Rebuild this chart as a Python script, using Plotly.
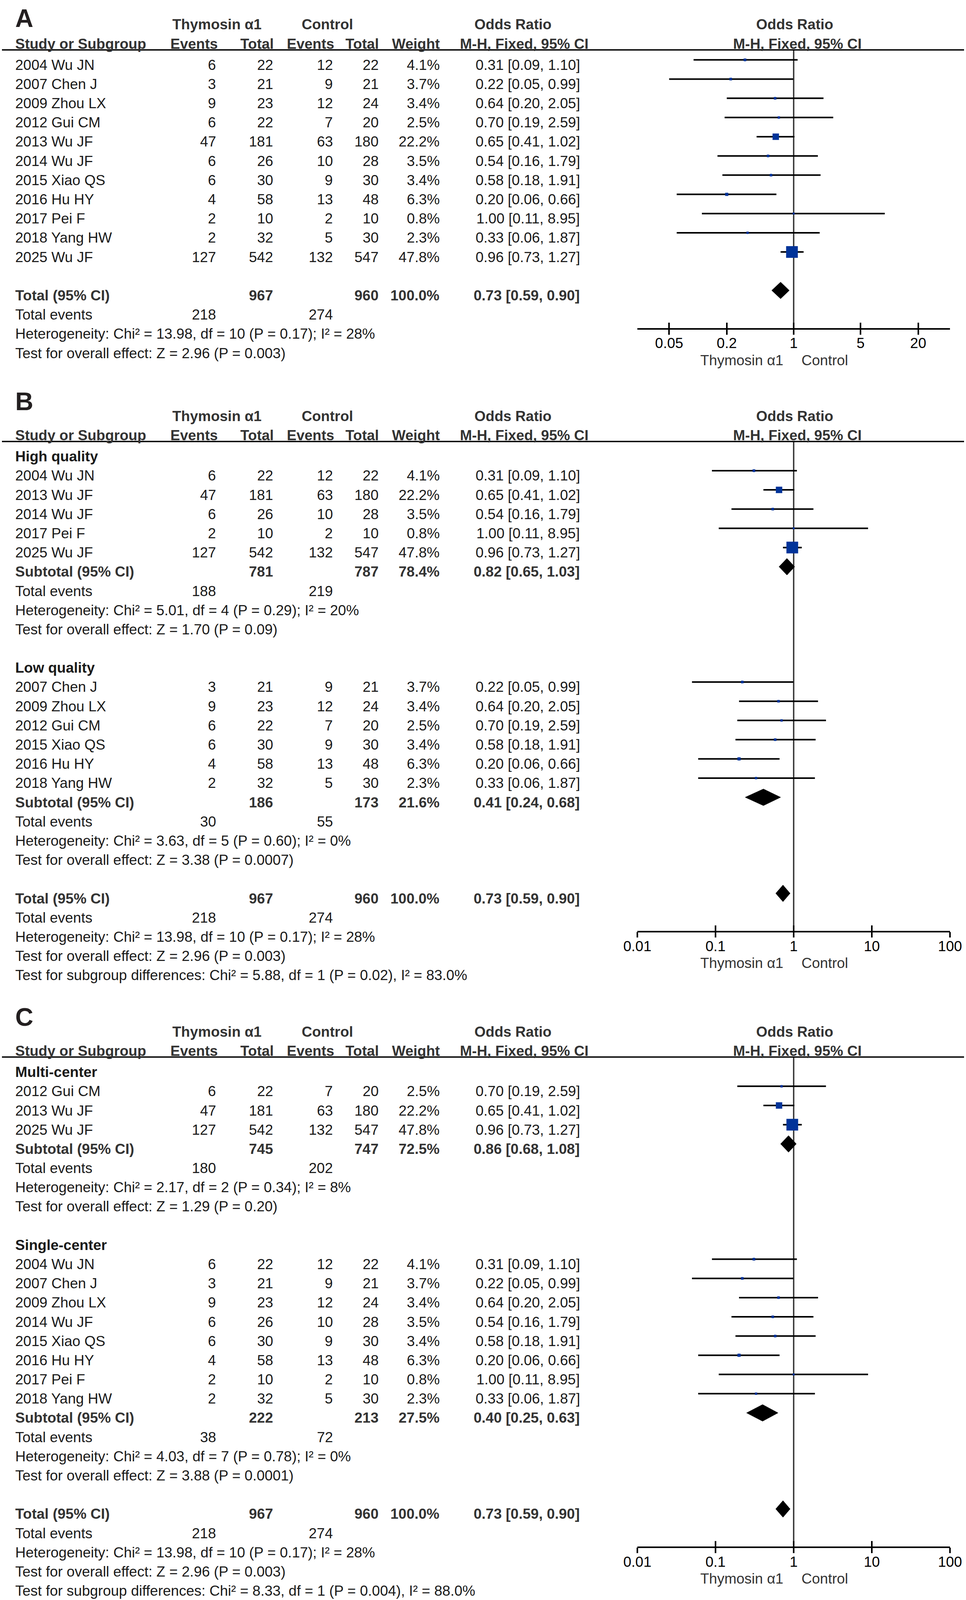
import plotly.graph_objects as go

W, H = 2472, 4143
FONT = "Liberation Sans, Arial, Helvetica, sans-serif"

# ---------------- data ----------------
study_names = ["2004 Wu JN", "2007 Chen J", "2009 Zhou LX", "2012 Gui CM", "2013 Wu JF",
               "2014 Wu JF", "2015 Xiao QS", "2016 Hu HY", "2017 Pei F", "2018 Yang HW", "2025 Wu JF"]
thy_events = [6, 3, 9, 6, 47, 6, 6, 4, 2, 2, 127]
thy_total = [22, 21, 23, 22, 181, 26, 30, 58, 10, 32, 542]
ctl_events = [12, 9, 12, 7, 63, 10, 9, 13, 2, 5, 132]
ctl_total = [22, 21, 24, 20, 180, 28, 30, 48, 10, 30, 547]
weight = [4.1, 3.7, 3.4, 2.5, 22.2, 3.5, 3.4, 6.3, 0.8, 2.3, 47.8]
or_est = [0.31, 0.22, 0.64, 0.70, 0.65, 0.54, 0.58, 0.20, 1.00, 0.33, 0.96]
ci_low = [0.09, 0.05, 0.20, 0.19, 0.41, 0.16, 0.18, 0.06, 0.11, 0.06, 0.73]
ci_high = [1.10, 0.99, 2.05, 2.59, 1.02, 1.79, 1.91, 0.66, 8.95, 1.87, 1.27]

# overall pooled result
total_n_thy = 967
total_n_ctl = 960
total_weight = 100.0
total_or = 0.73
total_low = 0.59
total_high = 0.90
total_ev_thy = 218
total_ev_ctl = 274
total_het = "Heterogeneity: Chi² = 13.98, df = 10 (P = 0.17); I² = 28%"
total_z = "Test for overall effect: Z = 2.96 (P = 0.003)"

# panel B: study quality
b_groups = ["High quality", "Low quality"]
b_members = [["2004 Wu JN", "2013 Wu JF", "2014 Wu JF", "2017 Pei F", "2025 Wu JF"],
             ["2007 Chen J", "2009 Zhou LX", "2012 Gui CM", "2015 Xiao QS", "2016 Hu HY", "2018 Yang HW"]]
b_n_thy = [781, 186]
b_n_ctl = [787, 173]
b_weight = [78.4, 21.6]
b_or = [0.82, 0.41]
b_low = [0.65, 0.24]
b_high = [1.03, 0.68]
b_ev_thy = [188, 30]
b_ev_ctl = [219, 55]
b_het = ["Heterogeneity: Chi² = 5.01, df = 4 (P = 0.29); I² = 20%",
         "Heterogeneity: Chi² = 3.63, df = 5 (P = 0.60); I² = 0%"]
b_z = ["Test for overall effect: Z = 1.70 (P = 0.09)",
       "Test for overall effect: Z = 3.38 (P = 0.0007)"]
b_diff = "Test for subgroup differences: Chi² = 5.88, df = 1 (P = 0.02), I² = 83.0%"

# panel C: centre type
c_groups = ["Multi-center", "Single-center"]
c_members = [["2012 Gui CM", "2013 Wu JF", "2025 Wu JF"],
             ["2004 Wu JN", "2007 Chen J", "2009 Zhou LX", "2014 Wu JF", "2015 Xiao QS",
              "2016 Hu HY", "2017 Pei F", "2018 Yang HW"]]
c_n_thy = [745, 222]
c_n_ctl = [747, 213]
c_weight = [72.5, 27.5]
c_or = [0.86, 0.40]
c_low = [0.68, 0.25]
c_high = [1.08, 0.63]
c_ev_thy = [180, 38]
c_ev_ctl = [202, 72]
c_het = ["Heterogeneity: Chi² = 2.17, df = 2 (P = 0.34); I² = 8%",
         "Heterogeneity: Chi² = 4.03, df = 7 (P = 0.78); I² = 0%"]
c_z = ["Test for overall effect: Z = 1.29 (P = 0.20)",
       "Test for overall effect: Z = 3.88 (P = 0.0001)"]
c_diff = "Test for subgroup differences: Chi² = 8.33, df = 1 (P = 0.004), I² = 88.0%"

panel_letters = ["A", "B", "C"]
a_tickvals = [0.05, 0.2, 1, 5, 20]
a_ticktext = ["0.05", "0.2", "1", "5", "20"]
bc_tickvals = [0.01, 0.1, 1, 10, 100]
bc_ticktext = ["0.01", "0.1", "1", "10", "100"]

# ---------------- layout geometry (pixels) ----------------
RH = 49.75                      # row height
M0 = [155.0, 1169.0, 2763.0]    # pixel y of row-0 marks per panel
PANEL_PX = [(0, 1000), (1000, 2600), (2600, 4143)]   # vertical pixel span of each panel
K_AXIS = [14, 25, 25]
K_HEAD = -0.52
K_LETTER = [-2.43, -2.86, -2.86]
TEXT_SHIFT = -13
X_NAME, X_EV1, X_N1, X_EV2, X_N2, X_W, X_OR = 37, 555, 701, 854, 971, 1127, 1486
X_PLOT0, X_PLOT1 = 1631, 2431
X_RANGES = [[-1.633, 1.633], [-2, 2], [-2, 2]]
BLUE = "#003399"
TXT = "#1a1a1a"
HDR = "#333333"

annotations = []
shapes = []
fig = go.Figure()


def yref(p):
    return "y" if p == 0 else f"y{p + 1}"


def xref(p):
    return "x" if p == 0 else f"x{p + 1}"


def ann(p, k, xpx, text, anchor="left", bold=False, color=TXT, size=37):
    annotations.append(dict(xref="paper", yref=yref(p), x=xpx / W, y=k, yshift=TEXT_SHIFT,
                            text=f"<b>{text}</b>" if bold else text, showarrow=False,
                            xanchor=anchor, yanchor="middle",
                            font=dict(family=FONT, size=size, color=color)))


panel_ci = [dict(x=[], y=[]) for _ in range(3)]
panel_mk = [dict(x=[], y=[], s=[]) for _ in range(3)]
panel_dm = [[] for _ in range(3)]


def study_row(p, k, name):
    i = study_names.index(name)
    ann(p, k, X_NAME, name)
    ann(p, k, X_EV1, str(thy_events[i]), "right")
    ann(p, k, X_N1, str(thy_total[i]), "right")
    ann(p, k, X_EV2, str(ctl_events[i]), "right")
    ann(p, k, X_N2, str(ctl_total[i]), "right")
    ann(p, k, X_W, f"{weight[i]:.1f}%", "right")
    ann(p, k, X_OR, f"{or_est[i]:.2f} [{ci_low[i]:.2f}, {ci_high[i]:.2f}]", "right")
    panel_ci[p]["x"] += [ci_low[i], ci_high[i], None]
    panel_ci[p]["y"] += [k, k, None]
    panel_mk[p]["x"].append(or_est[i])
    panel_mk[p]["y"].append(k)
    panel_mk[p]["s"].append(4.8 + 0.527 * weight[i])


def pooled_row(p, k, label, n1, n2, w, est, lo, hi):
    ann(p, k, X_NAME, label, bold=True, color=HDR)
    ann(p, k, X_N1, str(n1), "right", bold=True, color=HDR)
    ann(p, k, X_N2, str(n2), "right", bold=True, color=HDR)
    ann(p, k, X_W, f"{w:.1f}%", "right", bold=True, color=HDR)
    ann(p, k, X_OR, f"{est:.2f} [{lo:.2f}, {hi:.2f}]", "right", bold=True, color=HDR)
    panel_dm[p].append((lo, est, hi, k))


def events_row(p, k, e1, e2):
    ann(p, k, X_NAME, "Total events")
    ann(p, k, X_EV1, str(e1), "right")
    ann(p, k, X_EV2, str(e2), "right")


def header(p):
    ann(p, K_LETTER[p], X_NAME, panel_letters[p], bold=True, color="#231f20", size=64)
    ann(p, -2.1, 555, "Thymosin α1", "center", True, HDR)
    ann(p, -2.1, 837.5, "Control", "center", True, HDR)
    ann(p, -2.1, 1312, "Odds Ratio", "center", True, HDR)
    ann(p, -2.1, 2033, "Odds Ratio", "center", True, HDR)
    ann(p, -1.1, X_NAME, "Study or Subgroup", "left", True, HDR)
    ann(p, -1.1, 559, "Events", "right", True, HDR)
    ann(p, -1.1, 703, "Total", "right", True, HDR)
    ann(p, -1.1, 857, "Events", "right", True, HDR)
    ann(p, -1.1, 972, "Total", "right", True, HDR)
    ann(p, -1.1, 1128, "Weight", "right", True, HDR)
    ann(p, -1.1, 1341.5, "M-H, Fixed, 95% CI", "center", True, HDR)
    ann(p, -1.1, 2040, "M-H, Fixed, 95% CI", "center", True, HDR)
    shapes.append(dict(type="line", xref="paper", yref=yref(p), x0=5 / W, x1=2467 / W,
                       y0=K_HEAD, y1=K_HEAD, line=dict(color="black", width=3.5)))
    ka = K_AXIS[p] + 1.37
    ann(p, ka, 2007, "Thymosin α1", "right", color=HDR)
    ann(p, ka, 2049, "Control", "left", color=HDR)


def overall_rows(p, k):
    pooled_row(p, k, "Total (95% CI)", total_n_thy, total_n_ctl, total_weight,
               total_or, total_low, total_high)
    events_row(p, k + 1, total_ev_thy, total_ev_ctl)
    ann(p, k + 2, X_NAME, total_het)
    ann(p, k + 3, X_NAME, total_z)


# ---- panel A ----
header(0)
for j, name in enumerate(study_names):
    study_row(0, j, name)
overall_rows(0, len(study_names) + 1)

# ---- panels B and C ----
for p, (groups, members, n1s, n2s, ws, ors, los, his, e1s, e2s, hets, zs, diff) in enumerate(
        [(b_groups, b_members, b_n_thy, b_n_ctl, b_weight, b_or, b_low, b_high, b_ev_thy, b_ev_ctl, b_het, b_z, b_diff),
         (c_groups, c_members, c_n_thy, c_n_ctl, c_weight, c_or, c_low, c_high, c_ev_thy, c_ev_ctl, c_het, c_z, c_diff)],
        start=1):
    header(p)
    k = 0
    for g in range(len(groups)):
        ann(p, k, X_NAME, groups[g], bold=True, color=TXT)
        k += 1
        for name in members[g]:
            study_row(p, k, name)
            k += 1
        pooled_row(p, k, "Subtotal (95% CI)", n1s[g], n2s[g], ws[g], ors[g], los[g], his[g])
        events_row(p, k + 1, e1s[g], e2s[g])
        ann(p, k + 2, X_NAME, hets[g])
        ann(p, k + 3, X_NAME, zs[g])
        k += 5
    overall_rows(p, k)
    ann(p, k + 4, X_NAME, diff)

# ---- traces ----
DH = 21.5 / RH
for p in range(3):
    xa, ya = xref(p), yref(p)
    fig.add_trace(go.Scatter(x=[1, 1], y=[K_HEAD, K_AXIS[p]], mode="lines",
                             line=dict(color="#333333", width=3.5), xaxis=xa, yaxis=ya,
                             hoverinfo="skip", showlegend=False))
    fig.add_trace(go.Scatter(x=panel_ci[p]["x"], y=panel_ci[p]["y"], mode="lines",
                             line=dict(color="black", width=4), xaxis=xa, yaxis=ya,
                             hoverinfo="skip", showlegend=False))
    fig.add_trace(go.Scatter(x=panel_mk[p]["x"], y=panel_mk[p]["y"], mode="markers",
                             marker=dict(symbol="square", size=panel_mk[p]["s"], color=BLUE,
                                         opacity=1, line=dict(width=0)),
                             xaxis=xa, yaxis=ya, hoverinfo="skip", showlegend=False))
    for lo, est, hi, k in panel_dm[p]:
        fig.add_trace(go.Scatter(x=[lo, est, hi, est, lo], y=[k, k - DH, k, k + DH, k],
                                 mode="lines", fill="toself", fillcolor="black",
                                 line=dict(color="black", width=1), xaxis=xa, yaxis=ya,
                                 hoverinfo="skip", showlegend=False))
    # invisible trace for the overlay tick axis (lower half of the crossing ticks)
    fig.add_trace(go.Scatter(x=[1], y=[0], mode="markers", marker=dict(opacity=0),
                             xaxis=f"x{p + 4}", yaxis=ya, hoverinfo="skip", showlegend=False))

layout = dict(width=W, height=H, autosize=False,
              margin=dict(l=0, r=0, t=0, b=0, pad=0, autoexpand=False),
              paper_bgcolor="white", plot_bgcolor="rgba(0,0,0,0)", showlegend=False,
              annotations=annotations, shapes=shapes)
for p in range(3):
    top_px, bot_px = PANEL_PX[p]
    k_top = (top_px - M0[p]) / RH
    k_bot = (bot_px - M0[p]) / RH
    yname = "yaxis" if p == 0 else f"yaxis{p + 1}"
    layout[yname] = dict(domain=[1 - bot_px / H, 1 - top_px / H], range=[k_bot, k_top],
                         visible=False, fixedrange=True)
    axis_pos = 1 - (M0[p] + RH * K_AXIS[p]) / H
    tv = a_tickvals if p == 0 else bc_tickvals
    tt = a_ticktext if p == 0 else bc_ticktext
    xname = "xaxis" if p == 0 else f"xaxis{p + 1}"
    layout[xname] = dict(type="log", domain=[X_PLOT0 / W, X_PLOT1 / W], range=X_RANGES[p],
                         anchor="free", position=axis_pos, tickvals=tv, ticktext=tt,
                         ticks="inside", ticklen=14, tickwidth=4, tickcolor="black",
                         ticklabelstandoff=3,
                         showline=True, linewidth=4, linecolor="black", showgrid=False,
                         zeroline=False, automargin=False,
                         tickfont=dict(family=FONT, size=37, color="black"), fixedrange=True)
    layout[f"xaxis{p + 4}"] = dict(type="log", overlaying=xref(p), anchor="free", position=axis_pos,
                                  domain=[X_PLOT0 / W, X_PLOT1 / W], range=X_RANGES[p],
                                  tickvals=tv, ticks="outside", ticklen=14, tickwidth=4,
                                  tickcolor="black", showticklabels=False, showline=False,
                                  showgrid=False, zeroline=False, automargin=False,
                                  fixedrange=True)

fig.update_layout(**layout)

# fit the figure to the visible viewport so that nothing at the bottom is cut off
POST = """
document.documentElement.style.overflow='hidden';
document.body.style.overflow='hidden';
document.body.style.margin='0';
var gd = document.getElementById('{plot_id}');
var vw = window.innerWidth || %d, vh = window.innerHeight || %d;
if (vw > 0 && vh > 0 && (vw !== %d || vh !== %d)) {
    Plotly.relayout(gd, {width: vw, height: vh});
}
""" % (W, H, W, H)

fig.write_html("out.html", post_script=POST, config={"displayModeBar": False})
